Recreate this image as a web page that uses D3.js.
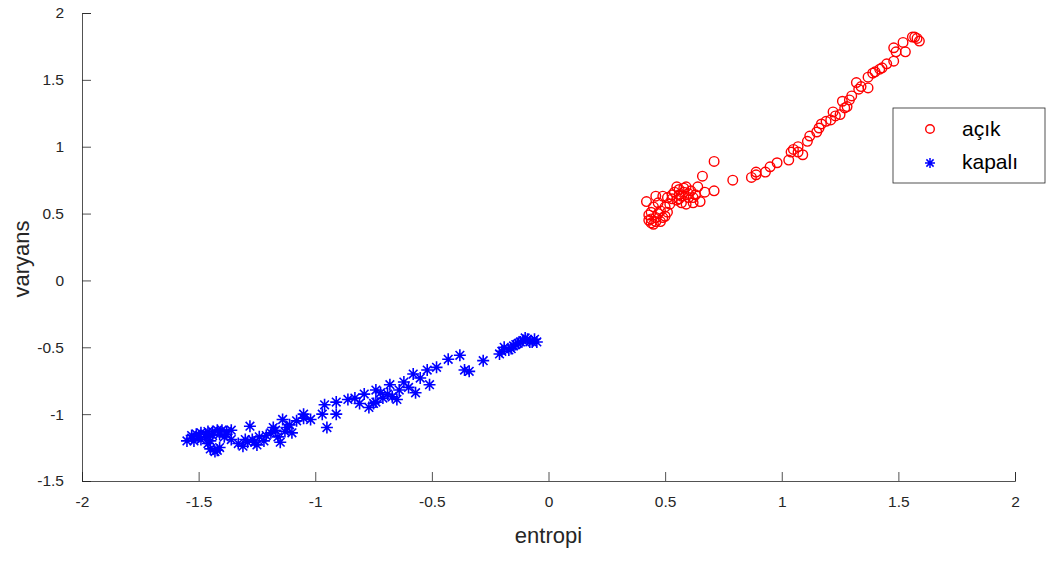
<!DOCTYPE html>
<html>
<head>
<meta charset="utf-8">
<script src="https://cdn.jsdelivr.net/npm/d3@7"></script>
<style>
  body { margin: 0; background: #fff; }
  svg { font-family: "Liberation Sans", Arial, Helvetica, sans-serif; }
</style>
</head>
<body>
<svg width="1048" height="563"></svg>
<script>
// açık (open) - red circles
const acikX = [0.42,0.43,0.44,0.44,0.46,0.46,0.48,0.49,0.50,0.51,0.46,0.49,0.51,0.53,0.52,0.56,0.56,0.58,0.59,0.56,
  0.57,0.60,0.61,0.59,0.62,0.64,0.65,0.66,0.67,0.71,0.71,0.63,0.79,0.87,0.89,0.89,0.93,0.95,0.98,1.03,
  1.04,1.05,1.07,1.09,1.07,1.11,1.12,1.15,1.16,1.17,1.19,1.21,1.22,1.23,1.25,1.26,1.27,1.28,1.29,1.30,
  1.32,1.33,1.34,1.37,1.37,1.39,1.40,1.42,1.43,1.45,1.48,1.48,1.49,1.52,1.53,1.56,1.57,1.58,1.59,
  0.44,0.45,0.47,0.45,0.48,0.50,0.43,0.47,0.53,0.55,0.57,0.58,0.60,0.54,0.62,0.55];
const acikY = [0.59,0.49,0.46,0.43,0.47,0.44,0.52,0.47,0.55,0.51,0.63,0.63,0.62,0.61,0.57,0.64,0.68,0.66,0.70,0.61,
  0.58,0.62,0.67,0.57,0.58,0.70,0.59,0.78,0.66,0.67,0.89,0.64,0.75,0.77,0.79,0.81,0.81,0.85,0.88,0.90,
  0.96,0.98,1.00,0.94,0.96,1.04,1.08,1.11,1.14,1.17,1.19,1.20,1.26,1.23,1.24,1.34,1.29,1.30,1.35,1.38,
  1.48,1.43,1.45,1.44,1.52,1.55,1.56,1.58,1.59,1.62,1.64,1.74,1.71,1.78,1.71,1.82,1.82,1.81,1.79,
  0.51,0.42,0.50,0.55,0.44,0.48,0.45,0.58,0.64,0.60,0.63,0.69,0.65,0.66,0.62,0.70];

// kapalı (closed) - blue stars
const kapaliX = [-1.55,-1.53,-1.51,-1.49,-1.46,-1.44,-1.42,-1.40,-1.38,-1.36,-1.49,-1.47,-1.45,-1.43,-1.45,-1.41,-1.39,-1.36,-1.52,
  -1.31,-1.29,-1.27,-1.28,-1.25,-1.24,-1.22,-1.19,-1.18,-1.16,-1.15,-1.14,-1.13,-1.11,-1.10,-1.08,-1.05,-1.02,
  -0.97,-0.96,-0.95,-0.91,-0.91,-0.86,-0.83,-0.79,-0.77,-0.75,-0.74,-0.74,-0.71,-0.69,-0.68,-0.65,-0.64,-0.62,
  -0.60,-0.58,-0.57,-0.55,-0.52,-0.51,-0.48,-0.43,-0.38,-0.36,-0.34,-0.28,-0.21,-0.20,-0.17,-0.15,-0.14,-0.12,
  -0.11,-0.09,-0.08,-0.07,-0.05,
  -1.50,-1.47,-1.44,-1.41,-1.38,-1.46,-1.42,-1.53,-1.33,-1.26,-1.21,-1.17,-1.12,-1.30,-1.05,-0.81,-0.72,-0.67,
  -0.13,-0.10,-0.06,-0.16,-0.19];
const kapaliY = [-1.20,-1.16,-1.15,-1.14,-1.13,-1.13,-1.12,-1.12,-1.13,-1.12,-1.19,-1.17,-1.20,-1.28,-1.26,-1.25,-1.17,-1.19,-1.20,
  -1.24,-1.21,-1.19,-1.09,-1.23,-1.17,-1.20,-1.14,-1.10,-1.17,-1.21,-1.04,-1.13,-1.08,-1.14,-1.05,-1.03,-1.04,
  -1.00,-0.93,-1.10,-1.00,-0.91,-0.89,-0.88,-0.85,-0.95,-0.92,-0.82,-0.91,-0.88,-0.85,-0.78,-0.89,-0.82,-0.76,
  -0.80,-0.70,-0.84,-0.73,-0.67,-0.78,-0.65,-0.59,-0.56,-0.67,-0.68,-0.60,-0.55,-0.53,-0.52,-0.49,-0.48,-0.46,
  -0.45,-0.44,-0.46,-0.46,-0.46,
  -1.17,-1.15,-1.16,-1.15,-1.15,-1.22,-1.27,-1.18,-1.22,-1.21,-1.16,-1.12,-1.10,-1.19,-1.00,-0.92,-0.84,-0.87,
  -0.47,-0.43,-0.44,-0.51,-0.50];

const xTicks = [-2, -1.5, -1, -0.5, 0, 0.5, 1, 1.5, 2];
const yTicks = [-1.5, -1, -0.5, 0, 0.5, 1, 1.5, 2];
const seriesNames = ["açık", "kapalı"];

const svg = d3.select("svg");
const plotL = 82, plotR = 1015, plotT = 13, plotB = 481;
const axisColor = "#262626";

const x = d3.scaleLinear().domain([-2, 2]).range([plotL, plotR]);
const y = d3.scaleLinear().domain([-1.5, 2]).range([plotB, plotT]);

// axes (MATLAB style: ticks inward, no box)
const xAxis = svg.append("g")
  .attr("transform", "translate(0," + plotB + ")")
  .call(d3.axisBottom(x).tickValues(xTicks).tickSize(-9).tickPadding(21).tickFormat(d => d));
const yAxis = svg.append("g")
  .attr("transform", "translate(" + plotL + ",0)")
  .call(d3.axisLeft(y).tickValues(yTicks).tickSize(-9).tickPadding(18).tickFormat(d => d));

[xAxis, yAxis].forEach(a => {
  a.select(".domain").attr("stroke", axisColor).attr("stroke-width", 0.8);
  a.selectAll(".tick line").attr("stroke", axisColor).attr("stroke-width", 0.8);
  a.selectAll(".tick text").attr("fill", "#262626").style("font-size", "15.5px");
});
xAxis.selectAll(".tick text").attr("dy", "0.3em");

// axis labels
svg.append("text")
  .attr("x", (plotL + plotR) / 2).attr("y", 543)
  .attr("text-anchor", "middle").attr("fill", "#262626")
  .style("font-size", "22px").text("entropi");
svg.append("text")
  .attr("transform", "translate(29," + ((plotT + plotB) / 2 + 12) + ")rotate(-90)")
  .attr("text-anchor", "middle").attr("fill", "#262626")
  .style("font-size", "22px").text("varyans");

// star path (MATLAB '*': plus + cross)
function starPath(r) {
  const d = r * 0.72;
  return "M" + (-r) + ",0L" + r + ",0M0," + (-r) + "L0," + r +
    "M" + (-d) + "," + (-d) + "L" + d + "," + d +
    "M" + (-d) + "," + d + "L" + d + "," + (-d);
}

const acik = acikX.map((v, i) => ({ x: v, y: acikY[i] }));
const kapali = kapaliX.map((v, i) => ({ x: v, y: kapaliY[i] }));

svg.append("g").selectAll("circle")
  .data(acik)
  .enter().append("circle")
  .attr("cx", d => x(d.x))
  .attr("cy", d => y(d.y))
  .attr("r", 4.8)
  .attr("fill", "none")
  .attr("stroke", "#ff0000")
  .attr("stroke-width", 1.4);

svg.append("g").selectAll("path")
  .data(kapali)
  .enter().append("path")
  .attr("transform", d => "translate(" + x(d.x) + "," + y(d.y) + ")")
  .attr("d", starPath(6))
  .attr("fill", "none")
  .attr("stroke", "#0000ff")
  .attr("stroke-width", 1.6);

// legend
const lg = svg.append("g").attr("transform", "translate(893,108)");
lg.append("rect")
  .attr("width", 152).attr("height", 75)
  .attr("fill", "#fff").attr("stroke", "#262626").attr("stroke-width", 0.8);
lg.append("circle")
  .attr("cx", 37).attr("cy", 21).attr("r", 4.3)
  .attr("fill", "none").attr("stroke", "#ff0000").attr("stroke-width", 1.4);
lg.append("path")
  .attr("transform", "translate(37,55)")
  .attr("d", starPath(5))
  .attr("fill", "none").attr("stroke", "#0000ff").attr("stroke-width", 1.5);
lg.selectAll("text.lbl")
  .data(seriesNames)
  .enter().append("text")
  .attr("class", "lbl")
  .attr("x", 69)
  .attr("y", (d, i) => 28 + i * 33)
  .attr("fill", "#000")
  .style("font-size", "21px")
  .text(d => d);
</script>
</body>
</html>
